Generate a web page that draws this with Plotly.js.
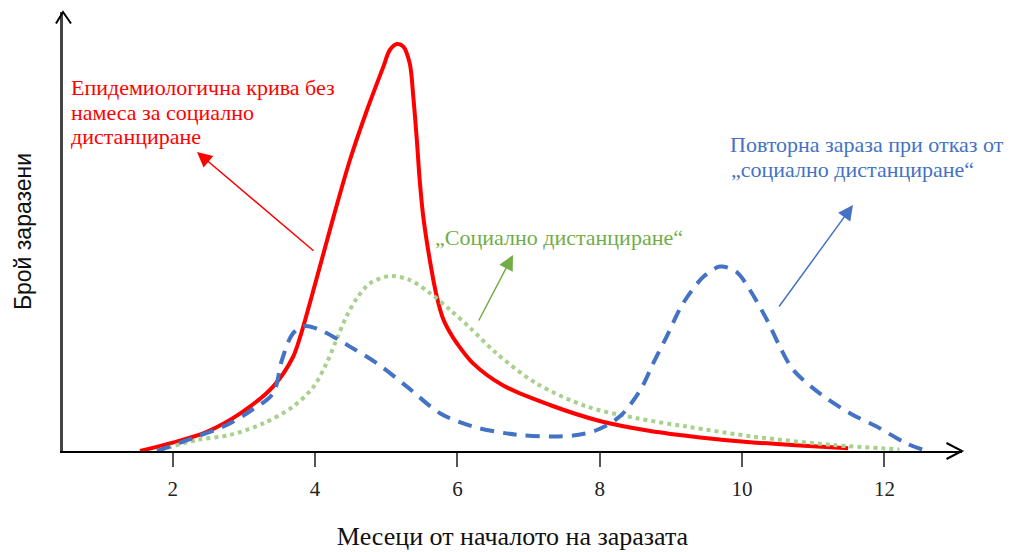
<!DOCTYPE html>
<html>
<head>
<meta charset="utf-8">
<script src="https://cdn.plot.ly/plotly-3.0.1.min.js"></script>
<style>html,body{margin:0;padding:0;background:#fff;}#chart{width:1010px;height:552px;}</style>
</head>
<body>
<div id="chart"></div>
<script>
// ---- data (months since start of infection, relative number of infected) ----
const xTicks = [2, 4, 6, 8, 10, 12];

const redX = [1.54, 2.00, 2.48, 2.95, 3.41, 3.69, 3.79, 4.02, 4.26, 4.49, 4.73, 4.96, 5.05, 5.15, 5.24, 5.33, 5.38, 5.43, 5.47, 5.52, 5.62, 5.71, 5.80, 5.90, 5.99, 6.22, 6.65, 7.30, 8.00, 8.71, 9.41, 10.11, 10.81, 11.49];
const redY = [0, 2.1, 4.8, 9.4, 16.1, 23.5, 28.5, 43, 58.6, 72.75, 85.25, 96.1, 100.25, 101.75, 101.1, 96.9, 88.6, 77.75, 67.75, 58.6, 46.9, 38.6, 33, 29.5, 27, 21.9, 16.3, 11.5, 7.5, 5.0, 3.4, 2.2, 1.4, 0.7];

const greenX = [1.82, 2.34, 2.80, 3.27, 3.69, 3.98, 4.16, 4.30, 4.44, 4.59, 4.77, 5.05, 5.33, 5.62, 5.90, 6.18, 6.55, 7.11, 7.82, 8.52, 9.22, 10.16, 11.28, 12.21];
const greenY = [0.25, 2.75, 4, 6.9, 11.1, 16.1, 21.9, 27.75, 33.6, 38.25, 41.9, 43.75, 42.75, 39.4, 35.25, 30.75, 24.4, 16.9, 11.1, 8.2, 6.1, 3.6, 1.5, 0.4];

const blueX = [1.78, 2.34, 2.76, 3.09, 3.41, 3.53, 3.69, 3.86, 4.09, 4.49, 4.87, 5.29, 5.76, 6.22, 6.69, 6.88, 7.35, 7.68, 7.96, 8.28, 8.57, 8.75, 8.94, 9.17, 9.46, 9.69, 9.92, 10.11, 10.35, 10.53, 10.72, 11.09, 11.52, 11.89, 12.31, 12.55];
const blueY = [0, 3.6, 6.5, 10, 14.4, 22.5, 29.4, 31.25, 30.1, 26.1, 21.9, 16.1, 9.4, 6.1, 4.4, 4, 3.6, 4, 5.25, 8.6, 15.25, 21.9, 28.6, 36.9, 43.6, 46.1, 44.8, 40.25, 32.75, 26.1, 20.25, 14.4, 9.4, 6.1, 1.9, 0.25];

const xTitle = 'Месеци от началото на заразата';
const yTitle = 'Брой заразени';
const redLabel = ['Епидемиологична крива без', 'намеса за социално', 'дистанциране'];
const greenLabel = ['„Социално дистанциране“'];
const blueLabel = ['Повторна зараза при отказ от', '„социално дистанциране“'];

// ---- layout helpers (pixel -> paper for decorations) ----
const W = 1010, H = 552, ML = 63, MR = 48, MT = 12, MB = 101;
const PW = W - ML - MR, PH = H - MT - MB;
const px = v => (v - ML) / PW;
const py = v => (H - MB - v) / PH;

const serif = 'Liberation Serif';
const RED = '#ff0000', GREEN_TXT = '#70ad47', GREEN_LINE = '#a9d18e', BLUE = '#4472c4';

const traces = [
  {x: redX, y: redY, mode: 'lines', line: {color: RED, width: 4, shape: 'spline', smoothing: 0.9}, name: 'red', hoverinfo: 'skip'},
  {x: greenX, y: greenY, mode: 'lines', line: {color: GREEN_LINE, width: 4, dash: '4px,4px', shape: 'spline', smoothing: 0.9}, name: 'green', hoverinfo: 'skip'},
  {x: blueX, y: blueY, mode: 'lines', line: {color: BLUE, width: 4, dash: '14px,9px', shape: 'spline', smoothing: 0.9}, name: 'blue', hoverinfo: 'skip'}
];

function textLine(t, x, yBase, color, size) {
  return {xref: 'paper', yref: 'paper', x: px(x), y: py(yBase - size * 0.34), xanchor: 'left', yanchor: 'middle',
    text: t, showarrow: false, font: {family: serif, size: size, color: color}};
}
function pointer(tipX, tipY, tailX, tailY, color) {
  return {xref: 'paper', yref: 'paper', x: px(tipX), y: py(tipY), ax: tailX - tipX, ay: tailY - tipY,
    text: '', showarrow: true, arrowhead: 2, arrowsize: 2, arrowwidth: 1.5, arrowcolor: color, standoff: 0};
}

const annotations = [
  textLine(redLabel[0], 69, 94.5, RED, 22),
  textLine(redLabel[1], 69, 119.5, RED, 22),
  textLine(redLabel[2], 69, 143.5, RED, 22),
  textLine(greenLabel[0], 433, 245, GREEN_TXT, 22),
  textLine(blueLabel[0], 728, 152, BLUE, 22),
  textLine(blueLabel[1], 729, 177, BLUE, 22),
  pointer(197, 152, 315, 252, RED),
  pointer(513, 255, 478, 322, GREEN_TXT),
  pointer(853, 205, 778, 308, BLUE)
];

const shapes = [
  // x-axis arrowhead
  {type: 'path', xref: 'paper', yref: 'paper', path: `M ${px(946.5)} ${py(443)} L ${px(962)} ${py(451)} L ${px(946.5)} ${py(459)}`, line: {color: '#000', width: 2}},
  // y-axis arrowhead
  {type: 'path', xref: 'paper', yref: 'paper', path: `M ${px(56)} ${py(23.5)} L ${px(63)} ${py(12)} L ${px(71)} ${py(23.5)}`, line: {color: '#000', width: 2}}
];

const layout = {
  width: W, height: H,
  margin: {l: ML, r: MR, t: MT, b: MB},
  paper_bgcolor: '#fff', plot_bgcolor: '#fff',
  showlegend: false,
  xaxis: {
    range: [(ML - 30.39) / 71.17, (W - MR - 30.39) / 71.17],
    tickvals: xTicks, ticktext: xTicks.map(String),
    showgrid: false, zeroline: false,
    showline: true, linecolor: '#000', linewidth: 2,
    ticks: 'outside', ticklen: 14, tickwidth: 2, tickcolor: '#555',
    ticklabelstandoff: 4,
    tickfont: {family: serif, size: 21, color: '#222'},
    title: {text: xTitle, font: {family: serif, size: 26, color: '#111'}, standoff: 27},
    fixedrange: true
  },
  yaxis: {
    range: [0, PH / 4],
    showgrid: false, zeroline: false,
    showline: true, linecolor: '#444', linewidth: 3,
    showticklabels: false, ticks: '',
    title: {text: yTitle, font: {family: 'Liberation Sans', size: 23, color: '#111'}, standoff: 22},
    fixedrange: true
  },
  annotations: annotations,
  shapes: shapes
};

Plotly.newPlot('chart', traces, layout, {displayModeBar: false, staticPlot: true});
</script>
</body>
</html>
